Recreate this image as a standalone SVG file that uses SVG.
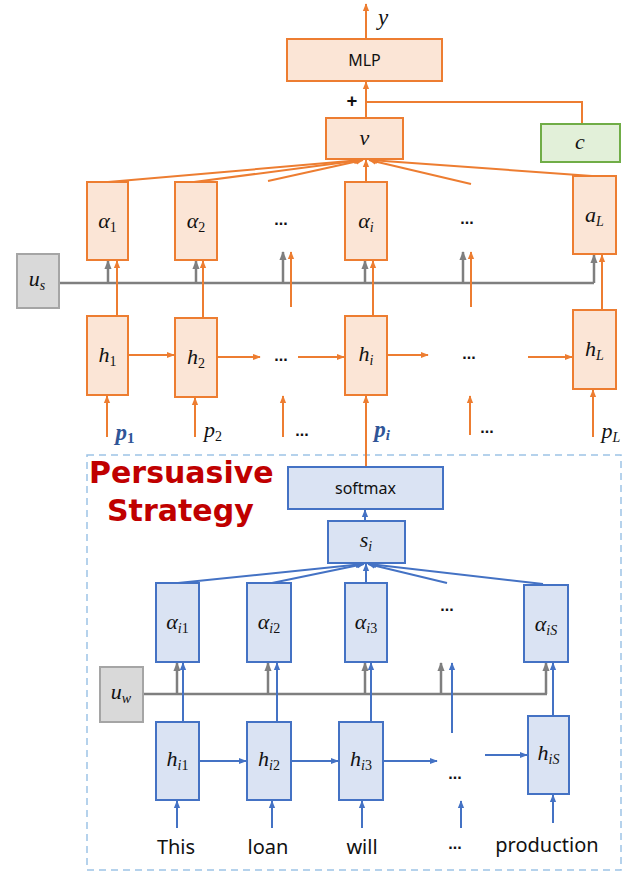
<svg xmlns="http://www.w3.org/2000/svg" width="623" height="873" viewBox="0 0 623 873">
  <style>
    .bo{fill:#fbe5d6;stroke:#ed7d31;stroke-width:2}
    .bb{fill:#dae3f3;stroke:#4472c4;stroke-width:2}
    .bg{fill:#d9d9d9;stroke:#a5a5a5;stroke-width:2}
    .bgr{fill:#e2f0d9;stroke:#70ad47;stroke-width:2}
    .lo{stroke:#ed7d31;stroke-width:2;fill:none}
    .lb{stroke:#4472c4;stroke-width:2;fill:none}
    .lg{stroke:#7f7f7f;stroke-width:2.5;fill:none}
    .ao{marker-end:url(#ah-o)}
    .ab{marker-end:url(#ah-b)}
    .ag{marker-end:url(#ah-g)}
    .m{font-family:"Liberation Serif","DejaVu Serif",serif;font-style:italic;font-size:22px;fill:#111;text-anchor:middle}
    .sub{font-size:14px}
    .up{font-style:normal}
    .t{font-family:"Noto Sans","Liberation Sans",sans-serif;fill:#111;text-anchor:middle}
    .dots{font-family:"Liberation Sans",sans-serif;font-size:16px;font-weight:bold;fill:#111;text-anchor:middle}
    .pb{fill:#2f5597;font-weight:bold}
    .red{font-family:"DejaVu Sans",sans-serif;font-weight:bold;font-size:30px;fill:#c00000}
  </style>
  <defs>
    <marker id="ah-o" viewBox="0 0 10 10" refX="9" refY="5" markerWidth="8" markerHeight="8" markerUnits="userSpaceOnUse" orient="auto"><path d="M0,1 L10,5 L0,9 z" fill="#ed7d31"/></marker>
    <marker id="ah-b" viewBox="0 0 10 10" refX="9" refY="5" markerWidth="8" markerHeight="8" markerUnits="userSpaceOnUse" orient="auto"><path d="M0,1 L10,5 L0,9 z" fill="#4472c4"/></marker>
    <marker id="ah-g" viewBox="0 0 10 10" refX="9" refY="5" markerWidth="9" markerHeight="9" markerUnits="userSpaceOnUse" orient="auto"><path d="M0,1 L10,5 L0,9 z" fill="#7f7f7f"/></marker>
  </defs>

  <!-- word-level region outline -->
  <rect x="87" y="455" width="534" height="415" fill="none" stroke="#9dc3e6" stroke-width="1.5" stroke-dasharray="7 5"/>
  <text class="red" x="89" y="483">Persuasive</text>
  <text class="red" x="107" y="521">Strategy</text>

  <!-- connectors -->
  <g id="connectors">
    <!-- output -->
    <line class="lo ao" x1="366" y1="39" x2="366" y2="4"/>
    <line class="lo ao" x1="366" y1="118" x2="366" y2="82"/>
    <polyline class="lo" points="366,102 582,102 582,124"/>
    <!-- sentence-level fan into v -->
    <line class="lo ao" x1="108" y1="182" x2="361" y2="160"/>
    <line class="lo ao" x1="194" y1="182" x2="362" y2="160"/>
    <line class="lo ao" x1="268" y1="181" x2="363" y2="160"/>
    <line class="lo ao" x1="366" y1="182" x2="366" y2="160"/>
    <line class="lo ao" x1="471" y1="184" x2="369" y2="160"/>
    <line class="lo ao" x1="592" y1="176" x2="370" y2="160"/>
    <!-- u_s context line -->
    <polyline class="lg" points="59,283 594,283"/>
    <line class="lg ag" x1="108" y1="283" x2="108" y2="261"/>
    <line class="lg ag" x1="196" y1="283" x2="196" y2="261"/>
    <line class="lg ag" x1="283" y1="283" x2="283" y2="252"/>
    <line class="lg ag" x1="365" y1="283" x2="365" y2="261"/>
    <line class="lg ag" x1="463" y1="283" x2="463" y2="252"/>
    <line class="lg ag" x1="594" y1="283" x2="594" y2="255"/>
    <!-- h -> alpha -->
    <line class="lo ao" x1="117" y1="316" x2="117" y2="261"/>
    <line class="lo ao" x1="203" y1="318" x2="203" y2="261"/>
    <line class="lo ao" x1="291" y1="307" x2="291" y2="252"/>
    <line class="lo ao" x1="373" y1="316" x2="373" y2="261"/>
    <line class="lo ao" x1="471" y1="307" x2="471" y2="252"/>
    <line class="lo ao" x1="602" y1="310" x2="602" y2="255"/>
    <!-- sentence recurrence -->
    <line class="lo ao" x1="128" y1="355" x2="174" y2="355"/>
    <line class="lo ao" x1="217" y1="357" x2="260" y2="357"/>
    <line class="lo ao" x1="298" y1="357" x2="344" y2="357"/>
    <line class="lo ao" x1="387" y1="355" x2="428" y2="355"/>
    <line class="lo ao" x1="528" y1="357" x2="572" y2="357"/>
    <!-- sentence inputs -->
    <line class="lo ao" x1="107" y1="437" x2="107" y2="396"/>
    <line class="lo ao" x1="195" y1="437" x2="195" y2="398"/>
    <line class="lo ao" x1="283" y1="437" x2="283" y2="396"/>
    <line class="lo ao" x1="366" y1="467" x2="366" y2="396"/>
    <line class="lo ao" x1="470" y1="435" x2="470" y2="396"/>
    <line class="lo ao" x1="593" y1="437" x2="593" y2="390"/>
    <!-- word-level -->
    <line class="lb ab" x1="365" y1="521" x2="365" y2="510"/>
    <line class="lb ab" x1="178" y1="583" x2="363" y2="564"/>
    <line class="lb ab" x1="272" y1="583" x2="364" y2="564"/>
    <line class="lb ab" x1="366" y1="583" x2="366" y2="564"/>
    <line class="lb ab" x1="447" y1="583" x2="368" y2="564"/>
    <line class="lb ab" x1="543" y1="584" x2="369" y2="564"/>
    <!-- u_w context line -->
    <polyline class="lg" points="143,694 547,694"/>
    <line class="lg ag" x1="177" y1="694" x2="177" y2="663"/>
    <line class="lg ag" x1="268" y1="694" x2="268" y2="663"/>
    <line class="lg ag" x1="365" y1="694" x2="365" y2="663"/>
    <line class="lg ag" x1="441" y1="694" x2="441" y2="663"/>
    <line class="lg ag" x1="546" y1="694" x2="546" y2="663"/>
    <!-- h_it -> alpha_it -->
    <line class="lb ab" x1="183" y1="722" x2="183" y2="663"/>
    <line class="lb ab" x1="277" y1="722" x2="277" y2="663"/>
    <line class="lb ab" x1="371" y1="722" x2="371" y2="663"/>
    <line class="lb ab" x1="452" y1="733" x2="452" y2="663"/>
    <line class="lb ab" x1="553" y1="716" x2="553" y2="663"/>
    <!-- word recurrence -->
    <line class="lb ab" x1="199" y1="761" x2="246" y2="761"/>
    <line class="lb ab" x1="291" y1="761" x2="338" y2="761"/>
    <line class="lb ab" x1="383" y1="761" x2="437" y2="761"/>
    <line class="lb ab" x1="485" y1="755" x2="527" y2="755"/>
    <!-- word inputs -->
    <line class="lb ab" x1="177" y1="828" x2="177" y2="801"/>
    <line class="lb ab" x1="272" y1="828" x2="272" y2="801"/>
    <line class="lb ab" x1="362" y1="828" x2="362" y2="801"/>
    <line class="lb ab" x1="461" y1="828" x2="461" y2="801"/>
    <line class="lb ab" x1="553" y1="823" x2="553" y2="795"/>
  </g>

  <!-- output -->
  <text class="m" x="383" y="25" style="font-size:23px">y</text>
  <g id="mlp"><rect class="bo" x="287" y="39" width="155" height="42"/><text class="t" x="364.5" y="66" font-size="16">MLP</text></g>
  <text class="t" x="352" y="108" font-size="19" font-weight="bold">+</text>
  <g id="v"><rect class="bo" x="326" y="118" width="77" height="41"/><text class="m" x="364.5" y="145">v</text></g>
  <g id="c"><rect class="bgr" x="541" y="124" width="79" height="38"/><text class="m" x="580" y="149">c</text></g>

  <!-- sentence attention weights -->
  <g id="alpha1"><rect class="bo" x="87" y="182" width="41" height="78"/><text class="m" x="107.5" y="228">α<tspan class="sub up" dy="4">1</tspan></text></g>
  <g id="alpha2"><rect class="bo" x="175" y="182" width="42" height="78"/><text class="m" x="196" y="228">α<tspan class="sub up" dy="4">2</tspan></text></g>
  <text class="dots" x="281" y="225">...</text>
  <g id="alphai"><rect class="bo" x="345" y="182" width="42" height="78"/><text class="m" x="366" y="228">α<tspan class="sub" dy="4">i</tspan></text></g>
  <text class="dots" x="467" y="224">...</text>
  <g id="alphaL"><rect class="bo" x="573" y="176" width="43" height="78"/><text class="m" x="594.5" y="222">a<tspan class="sub" dy="4">L</tspan></text></g>

  <g id="us"><rect class="bg" x="17" y="254" width="42" height="54"/><text class="m" x="37" y="286">u<tspan class="sub" dy="4">s</tspan></text></g>

  <!-- sentence encoder -->
  <g id="h1"><rect class="bo" x="87" y="316" width="41" height="79"/><text class="m" x="107.5" y="362">h<tspan class="sub up" dy="4">1</tspan></text></g>
  <g id="h2"><rect class="bo" x="175" y="318" width="42" height="79"/><text class="m" x="196" y="364">h<tspan class="sub up" dy="4">2</tspan></text></g>
  <text class="dots" x="281" y="361">...</text>
  <g id="hi"><rect class="bo" x="345" y="316" width="42" height="79"/><text class="m" x="366" y="361">h<tspan class="sub" dy="4">i</tspan></text></g>
  <text class="dots" x="469" y="359">...</text>
  <g id="hL"><rect class="bo" x="573" y="310" width="43" height="79"/><text class="m" x="594.5" y="356">h<tspan class="sub" dy="4">L</tspan></text></g>

  <!-- sentence inputs -->
  <text class="m pb" x="125" y="440" style="font-size:23px">p<tspan class="sub up" dy="3" style="font-size:15px">1</tspan></text>
  <text class="m" x="213" y="437">p<tspan class="sub up" dy="4">2</tspan></text>
  <text class="dots" x="302" y="436">...</text>
  <text class="m pb" x="382" y="437" style="font-size:23px">p<tspan class="sub" dy="3" style="font-size:15px">i</tspan></text>
  <text class="dots" x="487" y="433">...</text>
  <text class="m" x="611" y="438">p<tspan class="sub" dy="4">L</tspan></text>

  <!-- word-level attention -->
  <g id="softmax"><rect class="bb" x="288" y="467" width="155" height="42"/><text class="t" x="365.5" y="494" font-size="16">softmax</text></g>
  <g id="si"><rect class="bb" x="328" y="521" width="77" height="42"/><text class="m" x="366" y="547">s<tspan class="sub" dy="4">i</tspan></text></g>

  <g id="alphai1"><rect class="bb" x="156" y="583" width="43" height="79"/><text class="m" x="177.5" y="629">α<tspan class="sub" dy="4">i</tspan><tspan class="sub up">1</tspan></text></g>
  <g id="alphai2"><rect class="bb" x="247" y="583" width="44" height="79"/><text class="m" x="269" y="629">α<tspan class="sub" dy="4">i</tspan><tspan class="sub up">2</tspan></text></g>
  <g id="alphai3"><rect class="bb" x="345" y="583" width="42" height="79"/><text class="m" x="366" y="629">α<tspan class="sub" dy="4">i</tspan><tspan class="sub up">3</tspan></text></g>
  <text class="dots" x="447" y="611">...</text>
  <g id="alphaiS"><rect class="bb" x="524" y="585" width="44" height="77"/><text class="m" x="546" y="631">α<tspan class="sub" dy="4">iS</tspan></text></g>

  <g id="uw"><rect class="bg" x="100" y="667" width="43" height="55"/><text class="m" x="121" y="699">u<tspan class="sub" dy="4">w</tspan></text></g>

  <!-- word encoder -->
  <g id="hi1"><rect class="bb" x="156" y="722" width="43" height="78"/><text class="m" x="177.5" y="766">h<tspan class="sub" dy="4">i</tspan><tspan class="sub up">1</tspan></text></g>
  <g id="hi2"><rect class="bb" x="247" y="722" width="44" height="78"/><text class="m" x="269" y="766">h<tspan class="sub" dy="4">i</tspan><tspan class="sub up">2</tspan></text></g>
  <g id="hi3"><rect class="bb" x="339" y="722" width="44" height="78"/><text class="m" x="361" y="766">h<tspan class="sub" dy="4">i</tspan><tspan class="sub up">3</tspan></text></g>
  <text class="dots" x="455" y="779">...</text>
  <g id="hiS"><rect class="bb" x="528" y="716" width="41" height="78"/><text class="m" x="548.5" y="760">h<tspan class="sub" dy="4">iS</tspan></text></g>

  <!-- words -->
  <text class="t" x="176" y="854" font-size="20">This</text>
  <text class="t" x="268" y="854" font-size="20">loan</text>
  <text class="t" x="362" y="854" font-size="20">will</text>
  <text class="dots" x="455" y="849">...</text>
  <text class="t" x="547" y="852" font-size="20">production</text>
</svg>
